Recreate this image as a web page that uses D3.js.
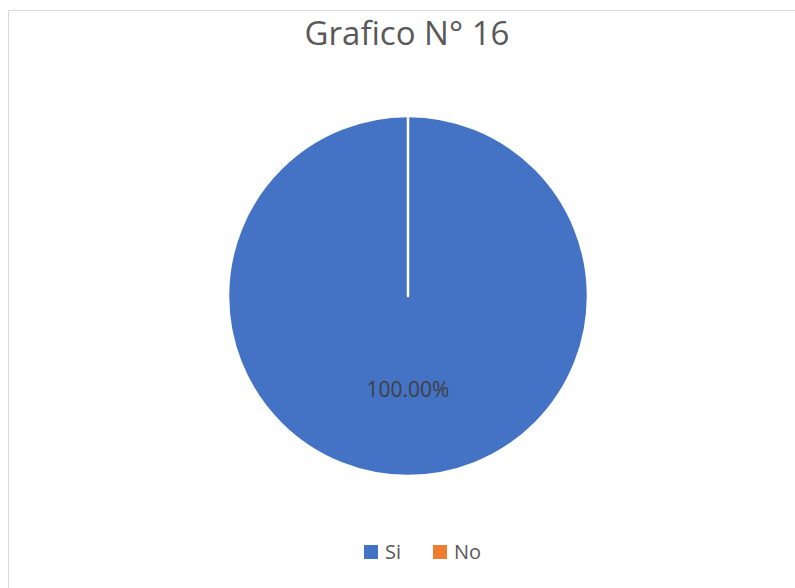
<!DOCTYPE html>
<html>
<head>
<meta charset="utf-8">
<script src="https://cdn.jsdelivr.net/npm/d3@7"></script>
<style>
  html, body { margin: 0; padding: 0; background: #ffffff; }
  svg { display: block; }
</style>
</head>
<body>
<svg id="chart" width="795" height="588"></svg>
<script>
// Survey answers for chart 16
const categories = ["Si", "No"];
const values = [100, 0];
const colors = ["#4472C4", "#ED7D31"];
const title = "Grafico N° 16";

const width = 795, height = 588;
const svg = d3.select("#chart");

// Chart area frame
svg.append("rect")
  .attr("x", 8.5).attr("y", 10.5)
  .attr("width", width).attr("height", height)
  .attr("fill", "#ffffff")
  .attr("stroke", "#d9d9d9")
  .attr("stroke-width", 1);

// Title
svg.append("text")
  .attr("x", 407).attr("y", 45)
  .attr("text-anchor", "middle")
  .attr("font-family", "'Open Sans', sans-serif")
  .attr("font-size", 33)
  .attr("fill", "#595959")
  .text(title);

const cx = 408, cy = 296, radius = 180;
const total = d3.sum(values);

const pie = d3.pie().sort(null).value(d => d.value);
const data = categories.map((c, i) => ({ name: c, value: values[i], color: colors[i] }));
const arcs = pie(data);

const arc = d3.arc().innerRadius(0).outerRadius(radius);
const labelArc = d3.arc().innerRadius(radius * 0.56).outerRadius(radius * 0.56);

const g = svg.append("g").attr("transform", `translate(${cx},${cy})`);

g.selectAll("path.slice")
  .data(arcs)
  .join("path")
  .attr("class", "slice")
  .attr("d", arc)
  .attr("fill", d => d.data.color)
  .attr("stroke", "#ffffff")
  .attr("stroke-width", 2.5)
  .attr("stroke-linejoin", "round");

// Percentage labels for non-empty slices
g.selectAll("text.pct")
  .data(arcs.filter(d => d.data.value > 0))
  .join("text")
  .attr("class", "pct")
  .attr("transform", d => `translate(${labelArc.centroid(d)})`)
  .attr("text-anchor", "middle")
  .attr("font-family", "'Open Sans', sans-serif")
  .attr("font-size", 21)
  .attr("fill", "#404040")
  .text(d => (d.data.value / total * 100).toFixed(2) + "%");

// Legend
const legendX = [364, 433];
const legend = svg.append("g");
const items = legend.selectAll("g")
  .data(data)
  .join("g")
  .attr("transform", (d, i) => `translate(${legendX[i]},545)`);
items.append("rect")
  .attr("width", 14).attr("height", 14)
  .attr("fill", d => d.color);
items.append("text")
  .attr("x", 21).attr("y", 14)
  .attr("font-family", "'Open Sans', sans-serif")
  .attr("font-size", 20)
  .attr("fill", "#595959")
  .text(d => d.name);
</script>
</body>
</html>
